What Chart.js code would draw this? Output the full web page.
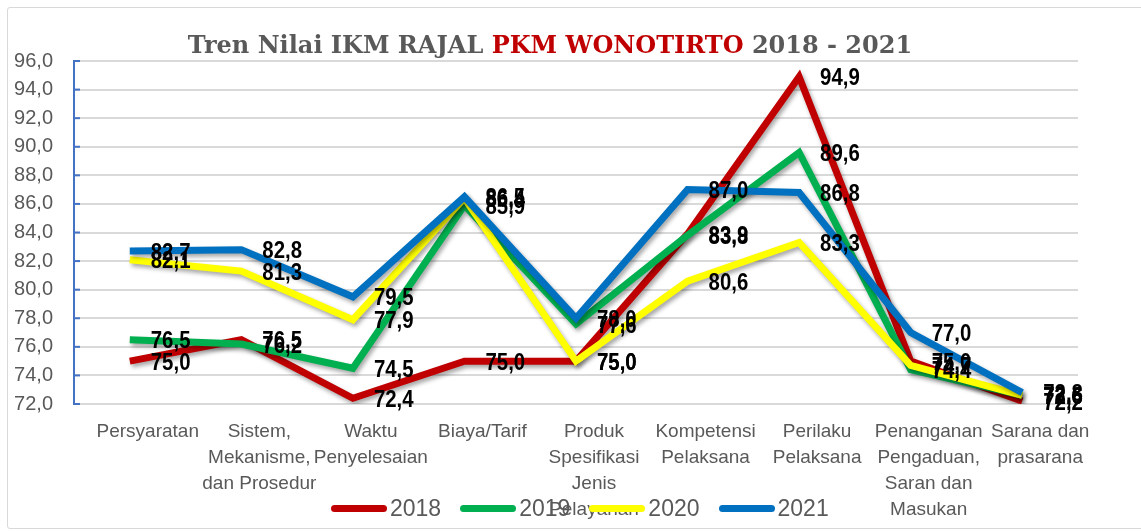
<!DOCTYPE html>
<html>
<head>
<meta charset="utf-8">
<script src="https://cdn.jsdelivr.net/npm/chart.js@4"></script>
<style>
  body { margin: 0; width: 1141px; height: 532px; overflow: hidden; background: #fff; position: relative; font-family: "Liberation Sans", Arial, sans-serif; }
  #bingkai { position: absolute; left: 7px; top: 7px; width: 1150px; height: 520px; border: 1px solid #d9d9d9; border-radius: 3px; }
  #judul { position: absolute; left: 0; top: 30px; width: 1100px; text-align: center; font: bold 24px "DejaVu Serif", serif; color: #595959; white-space: nowrap; }
  #judul span { color: #c00000; }
  #grafik { position: absolute; left: 0; top: 0; }
  #legenda { position: absolute; left: 331px; top: 495px; display: flex; align-items: center; font-size: 23px; color: #595959; }
  .item { display: flex; align-items: center; margin-right: 19px; }
  .garis { width: 56px; height: 7px; border-radius: 4px; margin-right: 3px; }
</style>
</head>
<body>
<div id="bingkai"></div>
<canvas id="grafik" width="1141" height="532"></canvas>
<div id="judul">Tren Nilai IKM RAJAL <span>PKM WONOTIRTO</span> 2018 - 2021</div>
<div id="legenda"></div>
<script>
const kategori = [
  "Persyaratan",
  ["Sistem,", "Mekanisme,", "dan Prosedur"],
  ["Waktu", "Penyelesaian"],
  "Biaya/Tarif",
  ["Produk", "Spesifikasi", "Jenis", "Pelayanan"],
  ["Kompetensi", "Pelaksana"],
  ["Perilaku", "Pelaksana"],
  ["Penanganan", "Pengaduan,", "Saran dan", "Masukan"],
  ["Sarana dan", "prasarana"]
];

const tahun = ["2018", "2019", "2020", "2021"];
const nilai2018 = [75.0, 76.5, 72.4, 75.0, 75.0, 83.9, 94.9, 75.0, 72.2];
const nilai2019 = [76.5, 76.2, 74.5, 85.9, 77.6, 83.8, 89.6, 74.4, 72.6];
const nilai2020 = [82.1, 81.3, 77.9, 86.4, 75.0, 80.6, 83.3, 74.7, 72.6];
const nilai2021 = [82.7, 82.8, 79.5, 86.5, 78.0, 87.0, 86.8, 77.0, 72.8];
const warna = ["#c00000", "#00b050", "#ffff00", "#0070c0"];

const sumbuMin = 72;
const sumbuMax = 96;
const langkah = 2;

const formatKoma = v => Number(v).toFixed(1).replace(".", ",");

const semuaNilai = [nilai2018, nilai2019, nilai2020, nilai2021];
const datasets = semuaNilai.map((d, i) => ({
  label: tahun[i],
  data: d,
  borderColor: warna[i],
  backgroundColor: warna[i],
  borderWidth: 7,
  tension: 0,
  pointRadius: 0,
  borderJoinStyle: "miter",
  order: semuaNilai.length - i
}));

// bayangan tipis di bawah garis
const bayangan = {
  id: "bayangan",
  beforeDatasetDraw(chart) {
    const c = chart.ctx;
    c.save();
    c.shadowColor = "rgba(0,0,0,0.35)";
    c.shadowBlur = 4;
    c.shadowOffsetX = 2;
    c.shadowOffsetY = 3;
  },
  afterDatasetDraw(chart) {
    chart.ctx.restore();
  }
};

// tanda kecil biru di dalam sumbu Y
const tandaSumbu = {
  id: "tandaSumbu",
  beforeDatasetsDraw(chart) {
    const c = chart.ctx;
    const y = chart.scales.y;
    c.save();
    c.strokeStyle = "#4472c4";
    c.lineWidth = 2;
    y.ticks.forEach(t => {
      const py = y.getPixelForValue(t.value);
      c.beginPath();
      c.moveTo(y.right, py);
      c.lineTo(y.right + 6, py);
      c.stroke();
    });
    c.restore();
  }
};

// label nilai di kanan titik (huruf dipersempit)
const labelNilai = {
  id: "labelNilai",
  afterDatasetsDraw(chart) {
    const c = chart.ctx;
    const sempit = 0.85;
    c.save();
    c.font = 'bold 24px "Liberation Sans", Arial, sans-serif';
    c.fillStyle = "#000";
    c.textAlign = "left";
    c.textBaseline = "middle";
    chart.data.datasets.forEach((ds, i) => {
      chart.getDatasetMeta(i).data.forEach((p, j) => {
        c.save();
        c.translate(p.x + 21, p.y + 2);
        c.scale(sempit, 1);
        c.fillText(formatKoma(ds.data[j]), 0, 0);
        c.restore();
      });
    });
    c.restore();
  }
};

new Chart(document.getElementById("grafik"), {
  type: "line",
  data: { labels: kategori, datasets: datasets },
  options: {
    responsive: false,
    animation: false,
    layout: { padding: { top: 61, right: 63, left: 0, bottom: 0 } },
    plugins: { legend: { display: false }, title: { display: false }, tooltip: { enabled: false } },
    scales: {
      x: {
        offset: true,
        grid: { display: false, drawTicks: false },
        border: { display: false },
        ticks: {
          color: "#595959",
          font: { family: "Liberation Sans", size: 19, lineHeight: 1.37 },
          padding: 15,
          labelOffset: 18,
          maxRotation: 0,
          autoSkip: false
        },
        afterFit(s) { s.height = 128; }
      },
      y: {
        min: sumbuMin,
        max: sumbuMax,
        grid: { color: "#d9d9d9", lineWidth: 2, drawTicks: false },
        border: { color: "#4472c4", width: 2 },
        ticks: {
          stepSize: langkah,
          color: "#595959",
          font: { family: "Liberation Sans", size: 20 },
          padding: 21,
          callback: v => formatKoma(v)
        },
        afterFit(s) { s.width = 74; }
      }
    }
  },
  plugins: [bayangan, tandaSumbu, labelNilai]
});

const legenda = document.getElementById("legenda");
tahun.forEach((t, i) => {
  const item = document.createElement("div");
  item.className = "item";
  item.innerHTML = `<div class="garis" style="background:${warna[i]}"></div><span>${t}</span>`;
  legenda.appendChild(item);
});
</script>
</body>
</html>
